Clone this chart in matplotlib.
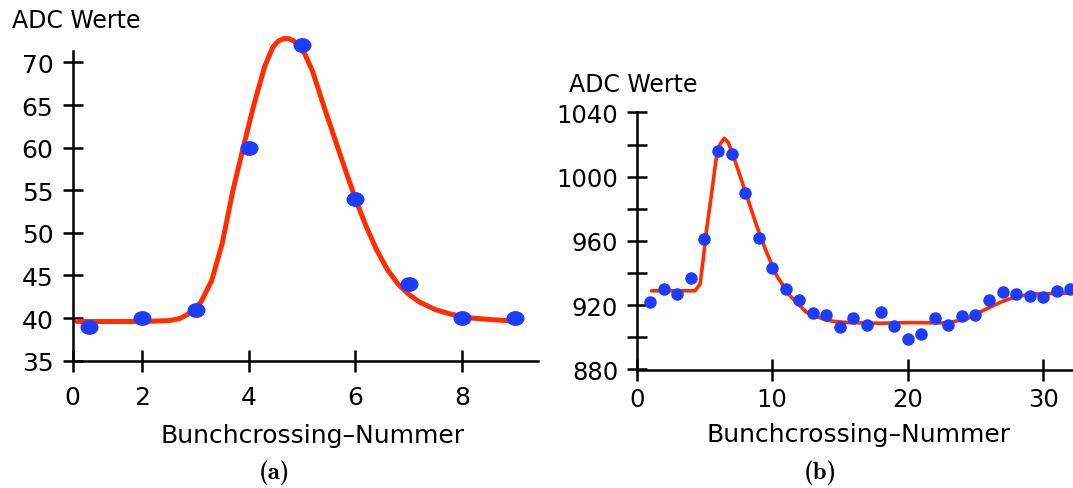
import matplotlib
matplotlib.use("Agg")
import matplotlib.pyplot as plt
from matplotlib.path import Path
from matplotlib.transforms import Affine2D

plt.rcParams['font.family'] = ['DejaVu Sans']

# ---------------- data: panel (a) ----------------
bx_a = [1, 2, 3, 4, 5, 6, 7, 8, 9]
adc_a = [39, 40, 41, 60, 72, 54, 44, 40, 40]
fit_x_a = [0.77, 2.0, 2.5, 2.7, 2.9, 3.1, 3.3, 3.5, 3.7, 3.9, 4.1, 4.3, 4.45,
           4.55, 4.65, 4.75, 4.85, 4.95, 5.05, 5.2, 5.4, 5.6, 5.8, 6.0, 6.2,
           6.4, 6.6, 6.8, 7.0, 7.2, 7.5, 7.8, 8.2, 8.6, 9.1]
fit_y_a = [39.6, 39.6, 39.7, 39.95, 40.6, 41.9, 44.4, 48.8, 55.0, 60.2, 65.2, 69.6,
           71.8, 72.5, 72.8, 72.8, 72.5, 71.9, 71.0, 68.9, 65.0, 61.3, 57.6, 54.0,
           50.8, 48.0, 45.7, 44.0, 42.8, 41.9, 41.0, 40.45, 40.0, 39.8, 39.6]
yticks_a = [35, 40, 45, 50, 55, 60, 65, 70]
xtick_labels_a = ['0', '2', '4', '6', '8']

# ---------------- data: panel (b) ----------------
bx_b = list(range(1, 33))
adc_b = [922, 930, 927, 937, 961, 1016, 1014, 990, 962, 943, 930, 923.5,
         915, 914, 906.5, 912, 908, 915.5, 907, 899, 902, 912, 908, 913,
         914, 923, 928, 927, 926, 925, 929, 930]
fit_x_b = [1.10, 4.30, 4.68, 4.91, 5.16, 5.54, 5.86, 6.15, 6.46, 6.76, 7.38, 8.12,
           8.85, 9.59, 10.33, 11.32, 12.54, 13.77, 14.52, 15.61, 17.96, 20.18,
           22.86, 24.35, 25.54, 26.83, 28.02, 29.31, 32.29]
fit_y_b = [929.0, 929.0, 933.2, 948.8, 967.4, 990.3, 1011.0, 1020.3, 1023.9, 1021.4,
           1006.8, 988.2, 969.5, 952.9, 938.4, 925.9, 915.5, 911.4, 910.0, 909.2,
           908.8, 909.2, 909.0, 911.4, 916.6, 921.8, 925.5, 927.0, 927.6]
yticks_b = [880, 920, 960, 1000, 1040]
yminor_b = [900, 940, 980, 1020]
xticks_b = [0, 10, 20, 30]

y_label = 'ADC Werte'
x_label = 'Bunchcrossing\u2013Nummer'
panel_labels = ['(a)', '(b)']

RED = '#ff2d00'
BLUE = '#1e3cff'
LW_SPINE = 1.8

fig = plt.figure(figsize=(10.73, 4.89), dpi=100)
W, H = 1073.0, 489.0

def frac(x0, x1, ytop, ybot):
    return [x0 / W, 1 - ybot / H, (x1 - x0) / W, (ybot - ytop) / H]

# ---------------- panel (a) ----------------
ax1 = fig.add_axes(frac(72.7, 538, 29.4, 361.7))
x_start_a = 0.69
ax1.set_xlim(x_start_a, 9.43)
ax1.set_ylim(35, 74)
ellipse = Path.unit_circle().transformed(Affine2D().scale(1.0, 0.82))
ax1.plot(fit_x_a, fit_y_a, color=RED, lw=3.6, solid_joinstyle='round',
         solid_capstyle='round', zorder=2, clip_on=False)
ax1.plot(bx_a, adc_a, linestyle='none', marker=ellipse, markersize=13,
         color=BLUE, markeredgewidth=0, zorder=3, clip_on=False)
ax1.set_yticks(yticks_a)
ax1.set_xticks([x_start_a, 2, 4, 6, 8])
ax1.set_xticklabels(xtick_labels_a)
ax1.tick_params(axis='y', direction='inout', length=13.7, width=LW_SPINE,
                pad=7, labelsize=18)
ax1.tick_params(axis='x', direction='inout', length=16.5, width=LW_SPINE,
                pad=9, labelsize=18)
for s in ['top', 'right']:
    ax1.spines[s].set_visible(False)
for s in ['left', 'bottom']:
    ax1.spines[s].set_linewidth(LW_SPINE)
ax1.spines['left'].set_bounds(35, 71.4)
ax1.patch.set_alpha(0)

# ---------------- panel (b) ----------------
ax2 = fig.add_axes(frac(636.7, 1073, 113.5, 370.5))
ax2.set_xlim(0, 32.2)
ax2.set_ylim(880, 1040)
ax2.plot(fit_x_b, fit_y_b, color=RED, lw=2.6, solid_joinstyle='round',
         solid_capstyle='round', zorder=2, clip_on=False)
ax2.plot(bx_b, adc_b, linestyle='none', marker='o', markersize=9,
         color=BLUE, markeredgewidth=0, zorder=3, clip_on=False)
ax2.set_yticks(yticks_b)
ax2.set_yticks(yminor_b, minor=True)
ax2.set_xticks(xticks_b)
ax2.tick_params(axis='y', which='both', direction='inout', length=13.7,
                width=LW_SPINE, pad=6.5, labelsize=17.5)
ax2.tick_params(axis='x', direction='inout', length=15.6, width=LW_SPINE,
                pad=5, labelsize=17.5)
for s in ['top', 'right']:
    ax2.spines[s].set_visible(False)
for s in ['left', 'bottom']:
    ax2.spines[s].set_linewidth(LW_SPINE)
ax2.patch.set_alpha(0)

# ---------------- texts ----------------
fig.text(12.1 / W, 1 - 28.3 / H, y_label, fontsize=17, ha='left', va='baseline')
fig.text(569 / W, 1 - 91.7 / H, y_label, fontsize=17, ha='left', va='baseline')
fig.text(312.8 / W, 1 - 443.3 / H, x_label, fontsize=18, ha='center', va='baseline')
fig.text(858.9 / W, 1 - 441.7 / H, x_label, fontsize=18, ha='center', va='baseline')
fig.text(274 / W, 1 - 479 / H, panel_labels[0], family='cmb10', fontsize=18,
         ha='center', va='baseline')
fig.text(820 / W, 1 - 479 / H, panel_labels[1], family='cmb10', fontsize=18,
         ha='center', va='baseline')

fig.savefig('out.png', dpi=100)
